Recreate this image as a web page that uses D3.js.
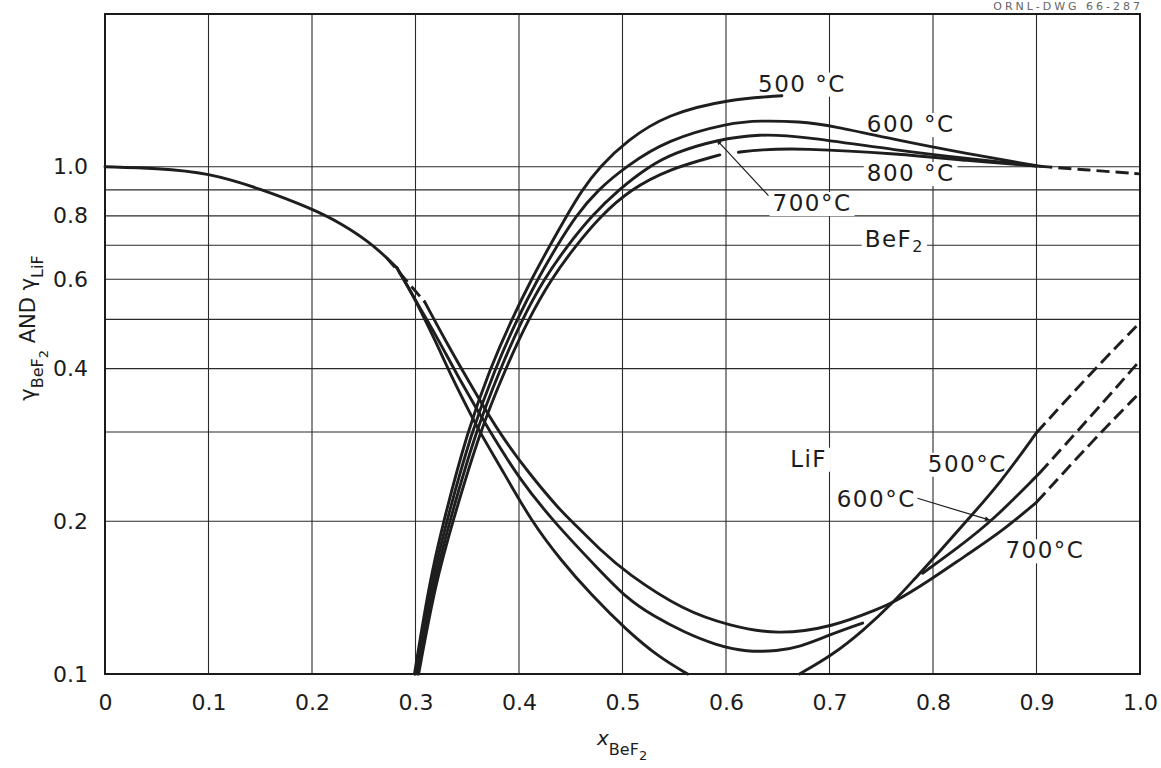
<!DOCTYPE html>
<html>
<head>
<meta charset="utf-8">
<script src="https://cdn.jsdelivr.net/npm/d3@7"></script>
<style>
  body { margin: 0; background: #fff; }
  text { font-family: "DejaVu Sans", sans-serif; fill: #1c1c1c; }
</style>
</head>
<body>
<svg id="chart" width="1161" height="768"></svg>
<script>
// ticks and grid
var xTicks = [0, 0.1, 0.2, 0.3, 0.4, 0.5, 0.6, 0.7, 0.8, 0.9, 1.0];
var yGrid = [0.1, 0.2, 0.3, 0.4, 0.5, 0.6, 0.7, 0.8, 0.9, 1.0];
var yLabels = [0.1, 0.2, 0.4, 0.6, 0.8, 1.0];

// gamma LiF  [x BeF2, gamma]
var lifCommon = [[0,1.0],[0.05,0.993],[0.1,0.973],[0.15,0.905],[0.2,0.827],[0.23,0.77],[0.26,0.70],[0.282,0.632]];
var lif500 = [[0.282,0.632],[0.295,0.57],[0.304,0.525],[0.32,0.45],[0.335,0.385],[0.35,0.335],[0.362,0.30],[0.385,0.25],[0.412,0.2],[0.44,0.168],[0.47,0.143],[0.504,0.122],[0.535,0.108],[0.563,0.1]];
var lif600 = [[0.282,0.632],[0.30,0.545],[0.32,0.465],[0.343,0.379],[0.372,0.3],[0.40,0.243],[0.433,0.2],[0.478,0.16],[0.504,0.141],[0.53,0.13],[0.559,0.121],[0.59,0.114],[0.62,0.1105],[0.65,0.111],[0.671,0.113],[0.698,0.119],[0.732,0.126]];
var lif700Dash = [[0.272,0.662],[0.29,0.60],[0.309,0.541]];
var lif700 = [[0.309,0.541],[0.33,0.45],[0.351,0.379],[0.38,0.30],[0.41,0.248],[0.44,0.21],[0.451,0.2],[0.478,0.176],[0.504,0.158],[0.56,0.133],[0.604,0.1245],[0.649,0.1194],[0.703,0.1237],[0.749,0.1349],[0.761,0.138],[0.795,0.152],[0.833,0.172],[0.865,0.19],[0.9,0.218]];
var lif700Tail = [[0.9,0.218],[0.952,0.285],[1.0,0.359]];
var lif500Rise = [[0.671,0.1],[0.703,0.109],[0.733,0.122],[0.761,0.138],[0.781,0.153],[0.805,0.173],[0.833,0.201],[0.865,0.238],[0.9,0.299]];
var lif500Tail = [[0.9,0.299],[0.952,0.391],[1.0,0.493]];
var lif600Rise = [[0.79,0.158],[0.825,0.178],[0.858,0.201],[0.903,0.249]];
var lif600Tail = [[0.903,0.249],[0.952,0.321],[1.0,0.415]];

// gamma BeF2
var bef500 = [[0.299,0.1],[0.313,0.15],[0.327,0.2],[0.35,0.3],[0.372,0.4],[0.393,0.5],[0.412,0.6],[0.43,0.7],[0.446,0.8],[0.461,0.9],[0.478,1.0],[0.504,1.125],[0.543,1.27],[0.604,1.36],[0.654,1.38]];
var bef600 = [[0.3,0.1],[0.315,0.15],[0.33,0.2],[0.354,0.3],[0.377,0.4],[0.398,0.5],[0.418,0.6],[0.437,0.7],[0.455,0.8],[0.476,0.9],[0.503,1.0],[0.543,1.13],[0.604,1.222],[0.633,1.232],[0.671,1.228],[0.703,1.204],[0.768,1.125],[0.833,1.061],[0.903,1.002]];
var bef700 = [[0.302,0.1],[0.317,0.15],[0.333,0.2],[0.358,0.3],[0.382,0.4],[0.403,0.5],[0.424,0.6],[0.447,0.7],[0.47,0.8],[0.496,0.9],[0.525,1.0],[0.55,1.065],[0.591,1.13],[0.633,1.16],[0.671,1.15],[0.768,1.075],[0.833,1.038],[0.9,1.003]];
var bef800a = [[0.303,0.1],[0.319,0.15],[0.336,0.2],[0.362,0.3],[0.387,0.4],[0.409,0.5],[0.431,0.6],[0.455,0.7],[0.479,0.8],[0.507,0.9],[0.545,0.99],[0.594,1.055]];
var bef800b = [[0.612,1.068],[0.633,1.08],[0.671,1.088],[0.768,1.06],[0.833,1.028],[0.9,1.003]];
var befTail = [[0.903,1.002],[0.95,0.985],[1.0,0.968]];

// annotations: [x, y, text, subscript]
var labels = [
  [0.631, 1.46, "500 °C"],
  [0.736, 1.215, "600 °C"],
  [0.736, 0.973, "800 °C"],
  [0.645, 0.849, "700°C"],
  [0.734, 0.722, "BeF", "2"],
  [0.662, 0.266, "LiF"],
  [0.795, 0.260, "500°C"],
  [0.707, 0.222, "600°C"],
  [0.870, 0.1755, "700°C"]
];
var leaders = [
  [[0.641, 0.877], [0.591, 1.13]],
  [[0.785, 0.222], [0.855, 0.201]]
];

var svg = d3.select("#chart");
var x = d3.scaleLinear().domain([0, 1]).range([105, 1140]);
var y = d3.scaleLog().domain([0.1, 2]).range([674, 14]);

// drawing number in the corner
svg.append("text").attr("x", 1143).attr("y", 10).attr("text-anchor", "end")
  .style("font-size", "11px").style("letter-spacing", "3px").style("fill", "#666")
  .text("ORNL-DWG 66-287");

var grid = svg.append("g").attr("stroke", "#2a2a2a").attr("stroke-width", 1.1);
grid.selectAll(".vg").data(xTicks).enter().append("line")
  .attr("x1", d => x(d)).attr("x2", d => x(d))
  .attr("y1", y(0.1)).attr("y2", y(2));
grid.selectAll(".hg").data(yGrid).enter().append("line")
  .attr("x1", x(0)).attr("x2", x(1))
  .attr("y1", d => y(d)).attr("y2", d => y(d));

svg.append("rect").attr("x", x(0)).attr("y", y(2))
  .attr("width", x(1) - x(0)).attr("height", y(0.1) - y(2))
  .attr("fill", "none").attr("stroke", "#1a1a1a").attr("stroke-width", 2);

// label backgrounds go under the curves but over the grid
var maskLayer = svg.append("g");
var curveLayer = svg.append("g");
var labelLayer = svg.append("g");

// hand-read points are noisy, so smooth with a B-spline
var line = d3.line().x(d => x(d[0])).y(d => y(d[1])).curve(d3.curveBasis);

var solid = [lifCommon, lif500, lif600, lif700, lif500Rise, lif600Rise, bef500, bef600, bef700, bef800a, bef800b];
var dashed = [lif700Dash, lif700Tail, lif500Tail, lif600Tail, befTail];

curveLayer.selectAll(".solid").data(solid).enter().append("path")
  .attr("d", line).attr("fill", "none").attr("stroke", "#1e1e1e")
  .attr("stroke-width", 2.9).attr("stroke-linecap", "round");
curveLayer.selectAll(".dashed").data(dashed).enter().append("path")
  .attr("d", line).attr("fill", "none").attr("stroke", "#1e1e1e")
  .attr("stroke-width", 2.9).attr("stroke-dasharray", "13,6");

svg.append("defs").append("marker")
  .attr("id", "arrow").attr("viewBox", "0 0 10 10")
  .attr("refX", 10).attr("refY", 5)
  .attr("markerWidth", 9).attr("markerHeight", 5)
  .attr("markerUnits", "userSpaceOnUse").attr("orient", "auto")
  .append("path").attr("d", "M0,0 L10,5 L0,10 z").attr("fill", "#1e1e1e");

curveLayer.selectAll(".leader").data(leaders).enter().append("line")
  .attr("x1", d => x(d[0][0])).attr("y1", d => y(d[0][1]))
  .attr("x2", d => x(d[1][0])).attr("y2", d => y(d[1][1]))
  .attr("stroke", "#1e1e1e").attr("stroke-width", 1.2)
  .attr("marker-end", "url(#arrow)");

labels.forEach(function(l) {
  var t = labelLayer.append("text")
    .attr("x", x(l[0])).attr("y", y(l[1]))
    .attr("dy", "0.36em")
    .style("font-size", "23px").style("letter-spacing", "1.5px")
    .text(l[2]);
  if (l[3])
    t.append("tspan").attr("dy", "0.35em").style("font-size", "16px").text(l[3]);
  var b = t.node().getBBox();
  maskLayer.append("rect")
    .attr("x", b.x - 3).attr("y", b.y + 2)
    .attr("width", b.width + 6).attr("height", b.height - 2)
    .attr("fill", "#fff");
});

// axes
var xAxis = svg.append("g").attr("transform", "translate(0," + y(0.1) + ")")
  .call(d3.axisBottom(x).tickValues(xTicks).tickSize(0).tickPadding(20)
    .tickFormat(d => d === 0 ? "0" : d3.format(".1f")(d)));
var yAxis = svg.append("g").attr("transform", "translate(" + x(0) + ",0)")
  .call(d3.axisLeft(y).tickValues(yLabels).tickSize(0).tickPadding(17)
    .tickFormat(d3.format(".1f")));
[xAxis, yAxis].forEach(function(a) {
  a.select(".domain").remove();
  a.selectAll("text").style("font-size", "22px").style("font-family", "DejaVu Sans, sans-serif").attr("fill", "#1c1c1c");
});

// axis titles
var xt = svg.append("text").attr("x", 597).attr("y", 745).style("font-size", "20px");
xt.append("tspan").style("font-style", "italic").text("x");
xt.append("tspan").attr("dy", 10).style("font-size", "16px").text("BeF");
xt.append("tspan").attr("dy", 5).style("font-size", "13px").text("2");

var yt = svg.append("text").attr("transform", "translate(35,328) rotate(-90)")
  .attr("text-anchor", "middle").style("font-size", "21px");
yt.append("tspan").text("γ");
yt.append("tspan").attr("dy", 8).style("font-size", "16px").text("BeF");
yt.append("tspan").attr("dy", 5).style("font-size", "13px").text("2");
yt.append("tspan").attr("dy", -13).text(" AND γ");
yt.append("tspan").attr("dy", 8).style("font-size", "16px").text("LiF");
</script>
</body>
</html>
